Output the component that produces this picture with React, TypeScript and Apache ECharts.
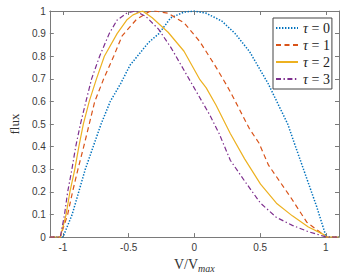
import React, { useEffect, useRef } from "react";
import * as echarts from "echarts";

const taus = [0, 1, 2, 3];
const xTicks = [-1, -0.5, 0, 0.5, 1];

const v0 = [-1.1, -1.0, -0.93, -0.88, -0.83, -0.77, -0.71, -0.64, -0.56, -0.49, -0.42, -0.35, -0.27, -0.18, -0.08, 0, 0.09, 0.21, 0.31, 0.42, 0.56, 0.71, 0.76, 0.83, 0.93, 0.99, 1.0, 1.1];
const f0 = [0, 0, 0.1, 0.2, 0.3, 0.4, 0.5, 0.6, 0.68, 0.76, 0.81, 0.86, 0.9, 0.97, 0.995, 1.0, 0.99, 0.955, 0.9, 0.82, 0.68, 0.5, 0.416, 0.3, 0.135, 0.024, 0, 0];

const v1 = [-1.1, -1.02, -0.964, -0.927, -0.886, -0.842, -0.8, -0.758, -0.69, -0.614, -0.55, -0.442, -0.345, -0.3, -0.2, -0.079, 0.042, 0.164, 0.249, 0.285, 0.418, 0.491, 0.564, 0.73, 0.855, 0.964, 1.0, 1.1];
const f1 = [0, 0, 0.1, 0.2, 0.3, 0.4, 0.5, 0.6, 0.7, 0.8, 0.89, 0.962, 0.997, 1.0, 0.99, 0.948, 0.864, 0.752, 0.668, 0.63, 0.48, 0.416, 0.318, 0.178, 0.066, 0.018, 0, 0];

const v2 = [-1.1, -1.02, -0.976, -0.947, -0.91, -0.879, -0.845, -0.8, -0.745, -0.685, -0.588, -0.515, -0.467, -0.394, -0.321, -0.2, -0.079, 0.042, 0.09, 0.164, 0.273, 0.382, 0.503, 0.624, 0.745, 0.867, 0.988, 1.0, 1.1];
const f2 = [0, 0, 0.1, 0.2, 0.3, 0.4, 0.5, 0.6, 0.7, 0.8, 0.9, 0.96, 0.983, 1.0, 0.97, 0.906, 0.822, 0.696, 0.66, 0.584, 0.458, 0.346, 0.234, 0.15, 0.094, 0.045, 0.01, 0, 0];

const v3 = [-1.1, -1.02, -0.988, -0.964, -0.932, -0.903, -0.867, -0.825, -0.782, -0.721, -0.648, -0.588, -0.515, -0.45, -0.37, -0.273, -0.176, -0.079, 0.018, 0.115, 0.188, 0.273, 0.382, 0.503, 0.624, 0.745, 0.867, 0.988, 1.0, 1.1];
const f3 = [0, 0, 0.1, 0.2, 0.3, 0.4, 0.5, 0.6, 0.7, 0.8, 0.9, 0.96, 0.99, 1.0, 0.976, 0.92, 0.836, 0.738, 0.64, 0.542, 0.458, 0.34, 0.248, 0.15, 0.087, 0.052, 0.024, 0.003, 0, 0];

const xs = [v0, v1, v2, v3];
const ys = [f0, f1, f2, f3];
const colors = ["#0072BD", "#D95319", "#EDB120", "#7E2F8E"];
const dashes: any[] = [[1.4, 1.6], [5, 3.5], "solid", [5, 2.5, 1.4, 2.5]];

const SERIF = "'Liberation Serif', 'DejaVu Serif', serif";

export default function App() {
  const ref = useRef<HTMLDivElement>(null);
  useEffect(() => {
    document.body.style.margin = "0";
    const chart = echarts.init(ref.current!, undefined, { renderer: "svg" });
    const axisLine = { show: true, onZero: false, lineStyle: { color: "#7a7a7a", width: 1 } };
    const tickStyle = { inside: true, length: 4, lineStyle: { color: "#7a7a7a" } };
    const labelFont = { fontFamily: "Liberation Sans", fontSize: 10, color: "#3a3a3a" };
    chart.setOption({
      animation: false,
      grid: { left: 36, right: 6, top: 11, bottom: 29 },
      legend: {
        orient: "vertical",
        left: 273,
        top: 18,
        itemWidth: 22,
        itemHeight: 12,
        itemGap: 3,
        padding: [3, 2, 3, 2],
        borderColor: "#444",
        borderWidth: 1,
        backgroundColor: "#fff",
        itemStyle: { opacity: 0, borderWidth: 0 },
        formatter: (name: string) => `{i|τ}{r| = ${name.split("= ")[1]}}`,
        textStyle: {
          fontFamily: SERIF,
          fontSize: 14,
          color: "#222",
          rich: {
            i: { fontFamily: SERIF, fontStyle: "italic", fontSize: 14, color: "#222" },
            r: { fontFamily: SERIF, fontSize: 14, color: "#222" },
          },
        },
      },
      xAxis: [
        {
          type: "value",
          min: -1.1,
          max: 1.1,
          position: "bottom",
          axisLine,
          axisTick: { ...tickStyle, customValues: xTicks },
          axisLabel: { ...labelFont, margin: 5, customValues: xTicks },
          splitLine: { show: false },
          name: "{a|V/V}{b|max}",
          nameLocation: "middle",
          nameGap: 12,
          nameTextStyle: {
            rich: {
              a: { fontFamily: SERIF, fontSize: 14, color: "#333", lineHeight: 16, verticalAlign: "top" },
              b: { fontFamily: SERIF, fontStyle: "italic", fontSize: 10, color: "#333", lineHeight: 10, verticalAlign: "bottom" },
            },
          },
        },
        {
          type: "value",
          min: -1.1,
          max: 1.1,
          position: "top",
          axisLine,
          axisTick: { ...tickStyle, customValues: xTicks },
          axisLabel: { show: false, customValues: xTicks },
          splitLine: { show: false },
        },
      ],
      yAxis: [
        {
          type: "value",
          min: 0,
          max: 1,
          interval: 0.1,
          position: "left",
          axisLine,
          axisTick: tickStyle,
          axisLabel: { ...labelFont, margin: 4 },
          splitLine: { show: false },
          name: "flux",
          nameLocation: "middle",
          nameGap: 18,
          nameTextStyle: { fontFamily: SERIF, fontSize: 13, color: "#333" },
        },
        {
          type: "value",
          min: 0,
          max: 1,
          interval: 0.1,
          position: "right",
          axisLine,
          axisTick: tickStyle,
          axisLabel: { show: false },
          splitLine: { show: false },
        },
      ],
      series: taus.map((t, i) => ({
        name: `τ = ${t}`,
        type: "line",
        xAxisIndex: 0,
        yAxisIndex: 0,
        symbol: "none",
        data: xs[i].map((x, j) => [x, ys[i][j]]),
        color: colors[i],
        lineStyle: { color: colors[i], width: i === 0 ? 1.5 : 1.2, type: dashes[i] },
      })),
    });
    return () => chart.dispose();
  }, []);
  return <div ref={ref} style={{ width: 345, height: 278 }} />;
}
